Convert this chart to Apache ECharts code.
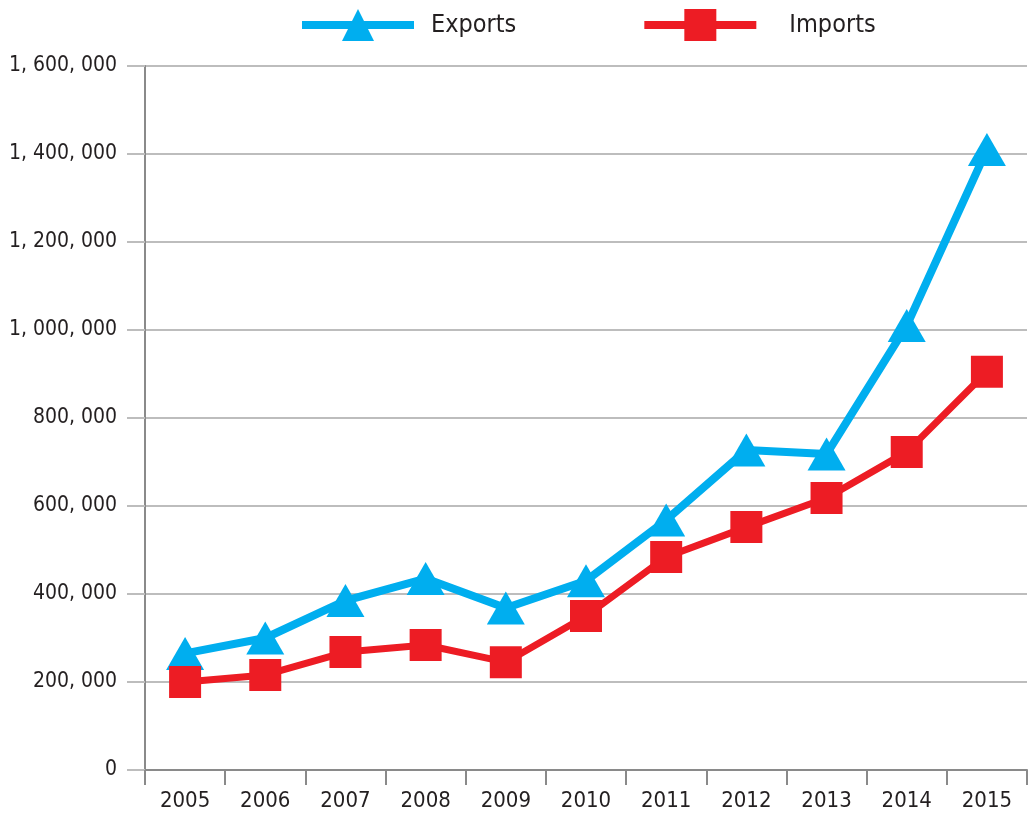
<!DOCTYPE html>
<html lang="en">
<head>
<meta charset="UTF-8">
<title>Exports and Imports</title>
<script src="https://cdn.jsdelivr.net/npm/echarts@6/dist/echarts.min.js"></script>
<style>
body{margin:0;background:#fff}
#main{width:1028px;height:814px}
</style>
</head>
<body>
<div id="main"></div>
<script type="text/javascript">
var years = ['2005','2006','2007','2008','2009','2010','2011','2012','2013','2014','2015'];
var exportsData = [265000, 300000, 385000, 435000, 368000, 430000, 568000, 727000, 718000, 1010000, 1410000];
var importsData = [200000, 216000, 268000, 284000, 245000, 350000, 484000, 552000, 618000, 723000, 905000];
var yTicks = [0, 200000, 400000, 600000, 800000, 1000000, 1200000, 1400000, 1600000];

var font = '"Liberation Sans Narrow", "DejaVu Sans Condensed", "Roboto", sans-serif';
var textColor = '#231f20';

function fmt(v) {
    return String(v).replace(/\B(?=(\d{3})+(?!\d))/g, ', ');
}

var myChart = echarts.init(document.getElementById('main'));
myChart.setOption({
    animation: false,
    backgroundColor: '#fff',
    legend: {
        left: 293,
        top: 4,
        itemWidth: 112,
        itemHeight: 40,
        itemGap: 124,
        lineStyle: {width: 8},
        textStyle: {fontFamily: font, fontSize: 25, color: textColor},
        data: [
            {name: 'Exports', textStyle: {padding: [0, 0, 0, 12]}},
            {name: 'Imports', textStyle: {padding: [0, 0, 0, 28]}}
        ]
    },
    grid: {left: 145, right: 1, top: 66, bottom: 44, outerBoundsMode: 'none'},
    xAxis: {
        type: 'category',
        data: years,
        boundaryGap: true,
        axisLine: {lineStyle: {color: '#8a8a8a', width: 2}},
        axisTick: {show: true, length: 15, lineStyle: {color: '#8a8a8a', width: 2}},
        axisLabel: {fontFamily: font, fontSize: 22, color: textColor, margin: 20}
    },
    yAxis: {
        type: 'value',
        min: yTicks[0],
        max: yTicks[yTicks.length - 1],
        interval: 200000,
        axisLine: {show: true, lineStyle: {color: '#8a8a8a', width: 2}},
        axisTick: {show: true, length: 18, lineStyle: {color: '#bdbdbd', width: 2}},
        splitLine: {lineStyle: {color: '#bdbdbd', width: 2}},
        axisLabel: {fontFamily: font, fontSize: 21, color: textColor, margin: 28, formatter: fmt}
    },
    series: [
        {
            name: 'Exports',
            type: 'line',
            data: exportsData,
            color: '#00aeef',
            symbol: 'triangle',
            symbolSize: [38, 33],
            lineStyle: {width: 8},
            itemStyle: {color: '#00aeef'}
        },
        {
            name: 'Imports',
            type: 'line',
            data: importsData,
            color: '#ed1c24',
            symbol: 'rect',
            symbolSize: 32,
            lineStyle: {width: 7},
            itemStyle: {color: '#ed1c24'}
        }
    ]
});
</script>
</body>
</html>
